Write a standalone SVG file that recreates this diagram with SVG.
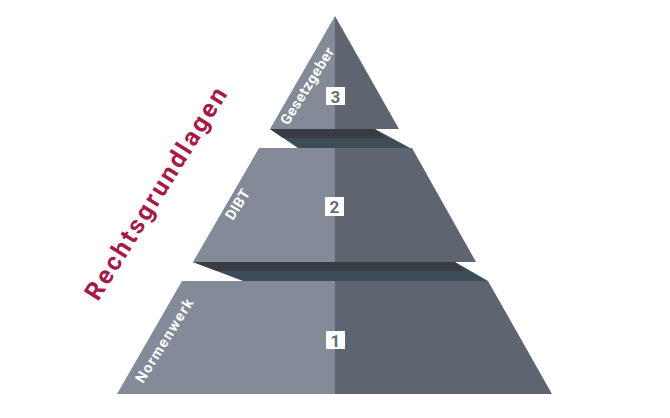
<svg xmlns="http://www.w3.org/2000/svg" width="670" height="418" viewBox="0 0 670 418">
  <style>
    .lf { fill: #838b98; }
    .rf { fill: #5f6570; }
    .dk { fill: #393c43; }
    .sl { fill: #3d4d58; }
    .box { fill: #ffffff; }
    .num { font-family: Roboto, "Liberation Sans", sans-serif; font-weight: 700; font-size: 17px; fill: #666c77; text-anchor: middle; }
    .lbl { font-family: Roboto, "Liberation Sans", sans-serif; font-weight: 700; font-size: 14.5px; fill: #ffffff; }
    .title { font-family: Roboto, "Liberation Sans", sans-serif; font-weight: 700; font-size: 25px; fill: #a51a4a; }
  </style>
  <rect width="670" height="418" fill="#ffffff"/>

  <g id="shadows">
    <polygon class="sl" points="270,129 375,129 410,148 298,148"/>
    <polygon class="dk" points="270,129 375,129 386,138 283,138"/>
    <polygon class="sl" points="193,262 455,262 488,281 243,281"/>
    <polygon class="dk" points="193,262 455,262 465,271 217,271"/>
  </g>

  <g id="tier-3">
    <polygon class="lf" points="335,16 270,129 335,129"/>
    <polygon class="rf" points="335,16 335,129 399,129"/>
    <rect class="box" x="326" y="87" width="19" height="18"/>
    <text class="num" x="335.5" y="102.5">3</text>
    <text class="lbl" transform="translate(288,126) rotate(-58)" textLength="88">Gesetzgeber</text>
  </g>

  <g id="tier-2">
    <polygon class="lf" points="259,148 335,148 335,262 193,262"/>
    <polygon class="rf" points="335,148 412,148 476,262 335,262"/>
    <rect class="box" x="325" y="197" width="19" height="19"/>
    <text class="num" x="334.5" y="213">2</text>
    <text class="lbl" transform="translate(233,221) rotate(-58)" textLength="33">DIBT</text>
  </g>

  <g id="tier-1">
    <polygon class="lf" points="182,281 335,281 335,394 117,394"/>
    <polygon class="rf" points="335,281 488,281 552,394 335,394"/>
    <rect class="box" x="326" y="331" width="19" height="18"/>
    <text class="num" x="335.5" y="346.5">1</text>
    <text class="lbl" transform="translate(143,384) rotate(-58)" textLength="96">Normenwerk</text>
  </g>

  <g id="title">
    <text class="title" transform="translate(98,302) rotate(-58)" textLength="245">Rechtsgrundlagen</text>
  </g>
</svg>
